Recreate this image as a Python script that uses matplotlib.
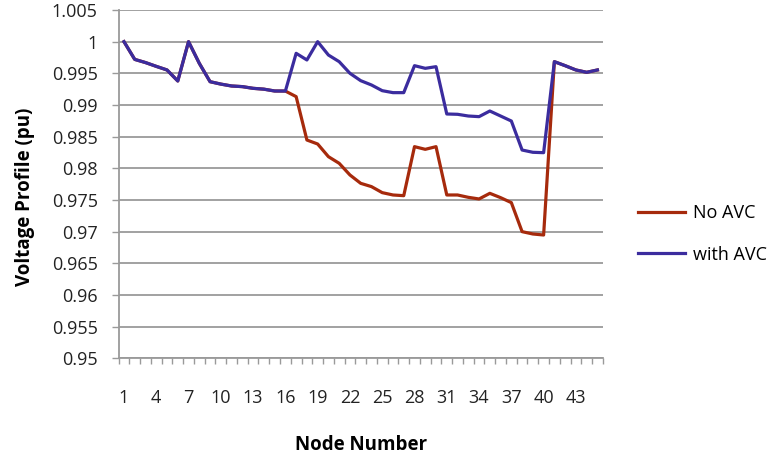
import matplotlib
matplotlib.use("Agg")
import matplotlib.pyplot as plt
import numpy as np

# Spannungsprofil je Knoten, ohne und mit AVC
knoten = list(range(1, 46))
ohne_avc = [
    1.0, 0.9972, 0.9967, 0.9961, 0.99553, 0.99379, 1.0, 0.99658, 0.99368, 0.9933,
    0.9930, 0.9929, 0.99263, 0.9925, 0.99221, 0.9922, 0.99132, 0.98447, 0.98384, 0.98184,
    0.98079, 0.97895, 0.97763, 0.97711, 0.97616, 0.97579, 0.97568, 0.98342, 0.98300, 0.98342,
    0.97579, 0.97579, 0.97542, 0.97516, 0.97605, 0.97537, 0.97458, 0.9700, 0.96963, 0.96947,
    0.99684, 0.99621, 0.99553, 0.99516, 0.99553,
]
mit_avc = [
    1.0, 0.9972, 0.9967, 0.9961, 0.99553, 0.99379, 1.0, 0.99658, 0.99368, 0.9933,
    0.9930, 0.9929, 0.99263, 0.9925, 0.99221, 0.9922, 0.99816, 0.99711, 1.0, 0.99789,
    0.99684, 0.99500, 0.99384, 0.99316, 0.99226, 0.99195, 0.99195, 0.99621, 0.99579, 0.99605,
    0.98858, 0.98853, 0.98826, 0.98816, 0.98905, 0.98826, 0.98747, 0.98289, 0.98253, 0.98247,
    0.99684, 0.99621, 0.99553, 0.99516, 0.99553,
]
x_labels = [str(k) for k in knoten if (k - 1) % 3 == 0]
y_labels = ["0.95", "0.955", "0.96", "0.965", "0.97", "0.975", "0.98",
            "0.985", "0.99", "0.995", "1", "1.005"]

plt.rcParams["font.family"] = ["Open Sans", "DejaVu Sans"]

fig = plt.figure(figsize=(7.79, 4.54), dpi=100)
ax = fig.add_axes([118.6 / 779, 1 - 358.3 / 454, (602.8 - 118.6) / 779, (358.3 - 10) / 454])

grau = "#9a9a9a"
ax.plot(knoten, ohne_avc, color="#A62A0C", lw=2.3, label="No AVC", zorder=3)
ax.plot(knoten, mit_avc, color="#3B2C9E", lw=2.3, label="with AVC", zorder=4)

ax.set_xlim(0.5, 45.5)
ax.set_ylim(0.95, 1.005)
ax.set_yticks(np.arange(0.95, 1.0051, 0.005))
ax.set_yticklabels(y_labels)
ax.grid(axis="y", color=grau, lw=1.3)
ax.set_axisbelow(True)

# Kategorie-Achse: Beschriftung jeder dritten Kategorie, Striche zwischen den Kategorien
ax.set_xticks([k for k in knoten if (k - 1) % 3 == 0])
ax.set_xticklabels(x_labels)
ax.set_xticks(np.arange(0.5, 45.6, 1), minor=True)
ax.tick_params(axis="x", which="major", length=0, pad=22, labelsize=13, colors="#222222")
ax.tick_params(axis="x", which="minor", length=4, width=1, color=grau)
ax.tick_params(axis="y", length=5, width=1, color=grau, labelsize=13, pad=10,
               labelcolor="#222222")

for side in ["top", "right"]:
    ax.spines[side].set_visible(False)
for side in ["left", "bottom"]:
    ax.spines[side].set_color(grau)
    ax.spines[side].set_linewidth(1.3)

ax.set_ylabel("Voltage Profile (pu)", fontsize=13.5, fontweight="bold")
ax.yaxis.set_label_coords(-0.172, 0.465)
ax.set_xlabel("Node Number", fontsize=13.5, fontweight="bold", labelpad=20)

fig.legend(loc="center left", bbox_to_anchor=(622 / 779, 1 - 234 / 454), frameon=False,
           fontsize=13, handlelength=2.6, labelspacing=1.3, handletextpad=0.45)

fig.savefig("out.png", dpi=100)
